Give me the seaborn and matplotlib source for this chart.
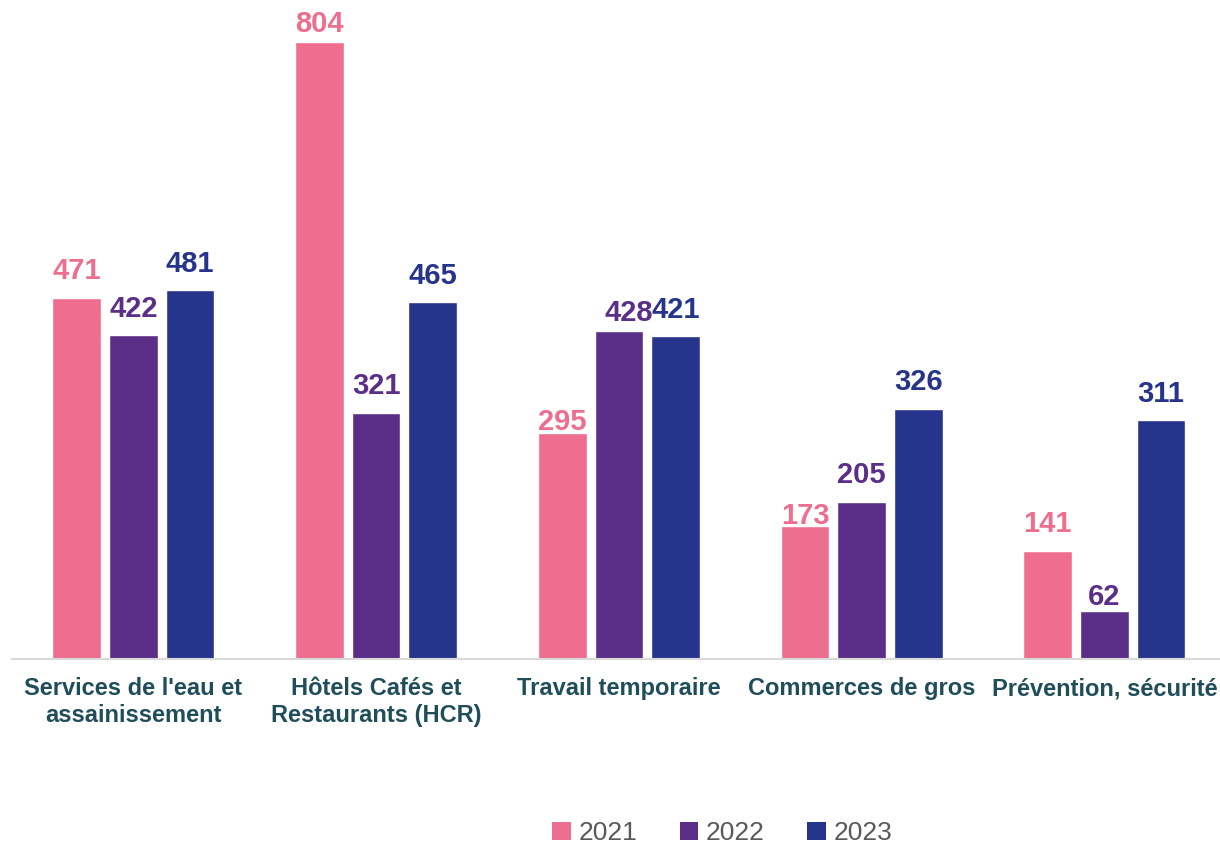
import matplotlib
matplotlib.use("Agg")
import matplotlib.pyplot as plt
import seaborn as sns
import pandas as pd
from matplotlib.patches import Patch

# Données
secteurs = [
    "Services de l'eau et\nassainissement",
    "Hôtels Cafés et\nRestaurants (HCR)",
    "Travail temporaire",
    "Commerces de gros",
    "Prévention, sécurité",
]
annees = ["2021", "2022", "2023"]
val_2021 = [471, 804, 295, 173, 141]
val_2022 = [422, 321, 428, 205, 62]
val_2023 = [481, 465, 421, 326, 311]

couleurs = ["#EE6E8F", "#5B2F87", "#27348B"]
texte_axe = "#1F4E5A"

rows = []
for annee, vals in zip(annees, [val_2021, val_2022, val_2023]):
    for s, v in zip(secteurs, vals):
        rows.append({"secteur": s, "annee": annee, "valeur": v})
df = pd.DataFrame(rows)

sns.set_theme(style="white")
plt.rcParams["font.family"] = ["Liberation Sans", "DejaVu Sans"]

fig = plt.figure(figsize=(12.2, 8.46), dpi=100)
ax = fig.add_axes([0.0098, 0.221, 0.995, 0.7707])

sns.barplot(data=df, x="secteur", y="valeur", hue="annee", order=secteurs,
            hue_order=annees, palette=couleurs, width=0.70, gap=0.14,
            saturation=1, legend=False, ax=ax)

ax.set_xlim(-0.5, 4.5)
ax.set_ylim(0, 850)

# décalages verticaux des étiquettes (points) ; quelques-unes sont plus basses
decalage = {("2021", 1): 3, ("2021", 2): -2, ("2021", 3): -3,
            ("2022", 1): 9, ("2022", 4): 0, ("2022", 2): 3}
for k, (cont, annee) in enumerate(zip(ax.containers, annees)):
    for i, bar in enumerate(cont):
        h = bar.get_height()
        dy = decalage.get((annee, i), 9)
        dx = 7 if (annee == "2022" and i == 2) else 0
        ax.annotate(f"{h:.0f}", (bar.get_x() + bar.get_width() / 2, h),
                    xytext=(dx, dy), textcoords="offset points",
                    ha="center", va="bottom", fontsize=21,
                    fontweight="bold", color=couleurs[k])

ax.set_xlabel("")
ax.set_ylabel("")
ax.set_yticks([])
for side in ["left", "right", "top"]:
    ax.spines[side].set_visible(False)
ax.spines["bottom"].set_color("#D9D9D9")
ax.spines["bottom"].set_linewidth(1.5)
ax.tick_params(axis="x", length=0, pad=13)
for lbl in ax.get_xticklabels():
    lbl.set_fontsize(17)
    lbl.set_fontweight("bold")
    lbl.set_color(texte_axe)
    lbl.set_linespacing(1.22)

handles = [Patch(facecolor=c, edgecolor="none") for c in couleurs]
fig.legend(handles, annees, loc="center", bbox_to_anchor=(0.592, 0.015),
           ncol=3, frameon=False, fontsize=19, handlelength=0.7,
           handleheight=0.7, handletextpad=0.3, columnspacing=1.6,
           labelcolor="#595959")

fig.savefig("out.png", dpi=100)
